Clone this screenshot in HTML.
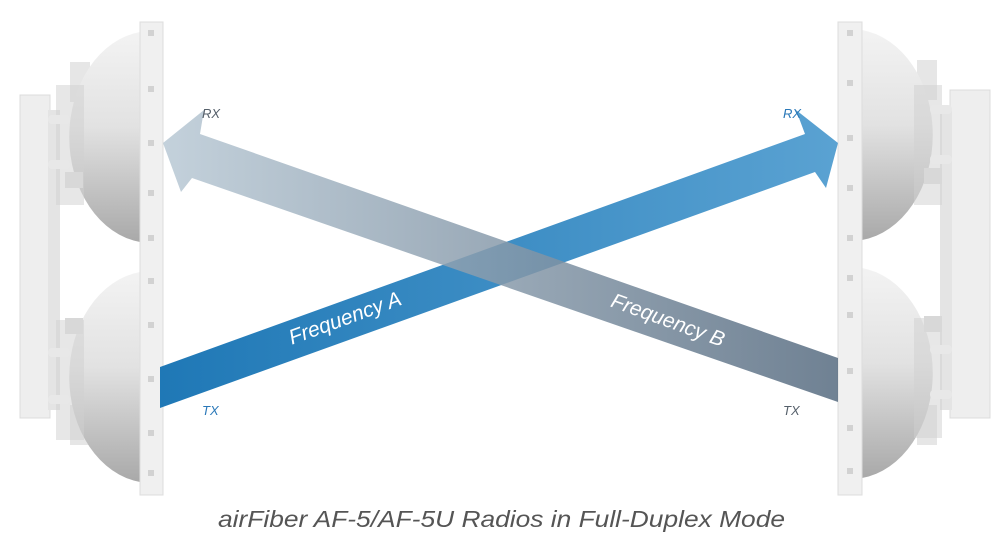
<!DOCTYPE html>
<html><head><meta charset="utf-8"><style>
html,body{margin:0;padding:0;background:#fff;width:1007px;height:544px;overflow:hidden}
svg{display:block}
</style></head><body>
<svg width="1007" height="544" viewBox="0 0 1007 544" xmlns="http://www.w3.org/2000/svg" font-family="Liberation Sans, sans-serif">
<defs>
<linearGradient id="domeV" x1="0" y1="0" x2="0" y2="1">
<stop offset="0" stop-color="#f3f3f3"/><stop offset="0.45" stop-color="#e2e2e2"/><stop offset="1" stop-color="#a9a9a9"/>
</linearGradient>
<linearGradient id="ga" x1="160" y1="0" x2="838" y2="0" gradientUnits="userSpaceOnUse">
<stop offset="0" stop-color="#1f78b6"/><stop offset="1" stop-color="#5aa2d2"/>
</linearGradient>
<linearGradient id="gb" x1="163" y1="0" x2="838" y2="0" gradientUnits="userSpaceOnUse">
<stop offset="0" stop-color="#b9c9d5"/><stop offset="1" stop-color="#566b80"/>
</linearGradient>
</defs>

<!-- Left device -->
<g>
<rect x="20" y="95" width="30" height="323" fill="#eeeeee" stroke="#dcdcdc"/>
<rect x="48" y="110" width="12" height="300" fill="#e4e4e4"/>
<rect x="70" y="62" width="20" height="40" fill="#e6e6e6"/>
<rect x="70" y="405" width="20" height="40" fill="#e6e6e6"/>
<path d="M140,32 A82,106 0 0 0 140,242 Z" fill="url(#domeV)"/>
<path d="M140,272 A82,106 0 0 0 140,482 Z" fill="url(#domeV)"/>
<rect x="56" y="85" width="28" height="120" fill="#cfcfcf" opacity="0.5"/>
<rect x="56" y="320" width="28" height="120" fill="#cfcfcf" opacity="0.5"/>
<rect x="48" y="115" width="22" height="9" rx="4" fill="#e8e8e8"/>
<rect x="48" y="160" width="22" height="9" rx="4" fill="#e8e8e8"/>
<rect x="48" y="348" width="22" height="9" rx="4" fill="#e8e8e8"/>
<rect x="48" y="395" width="22" height="9" rx="4" fill="#e8e8e8"/>
<rect x="65" y="172" width="18" height="16" fill="#d8d8d8"/>
<rect x="65" y="318" width="18" height="16" fill="#d8d8d8"/>
<rect x="140" y="22" width="23" height="473" fill="#f0f0f0" stroke="#dddddd"/>
<g fill="#d2d2d2">
<rect x="148" y="30" width="6" height="6"/><rect x="148" y="86" width="6" height="6"/><rect x="148" y="140" width="6" height="6"/>
<rect x="148" y="190" width="6" height="6"/><rect x="148" y="235" width="6" height="6"/><rect x="148" y="278" width="6" height="6"/>
<rect x="148" y="322" width="6" height="6"/><rect x="148" y="376" width="6" height="6"/><rect x="148" y="430" width="6" height="6"/><rect x="148" y="470" width="6" height="6"/>
</g>
</g>

<!-- Right device -->
<g>
<rect x="950" y="90" width="40" height="328" fill="#eeeeee" stroke="#dcdcdc"/>
<rect x="940" y="110" width="12" height="300" fill="#e4e4e4"/>
<rect x="917" y="60" width="20" height="40" fill="#e6e6e6"/>
<rect x="917" y="405" width="20" height="40" fill="#e6e6e6"/>
<path d="M862,30 A82,106 0 0 1 862,240 Z" fill="url(#domeV)"/>
<path d="M862,268 A82,106 0 0 1 862,478 Z" fill="url(#domeV)"/>
<rect x="914" y="85" width="28" height="120" fill="#cfcfcf" opacity="0.5"/>
<rect x="914" y="318" width="28" height="120" fill="#cfcfcf" opacity="0.5"/>
<rect x="930" y="105" width="22" height="9" rx="4" fill="#e8e8e8"/>
<rect x="930" y="155" width="22" height="9" rx="4" fill="#e8e8e8"/>
<rect x="930" y="345" width="22" height="9" rx="4" fill="#e8e8e8"/>
<rect x="930" y="390" width="22" height="9" rx="4" fill="#e8e8e8"/>
<rect x="924" y="168" width="18" height="16" fill="#d8d8d8"/>
<rect x="924" y="316" width="18" height="16" fill="#d8d8d8"/>
<rect x="838" y="22" width="24" height="473" fill="#f0f0f0" stroke="#dddddd"/>
<g fill="#d2d2d2">
<rect x="847" y="30" width="6" height="6"/><rect x="847" y="80" width="6" height="6"/><rect x="847" y="135" width="6" height="6"/>
<rect x="847" y="185" width="6" height="6"/><rect x="847" y="235" width="6" height="6"/><rect x="847" y="275" width="6" height="6"/>
<rect x="847" y="312" width="6" height="6"/><rect x="847" y="368" width="6" height="6"/><rect x="847" y="425" width="6" height="6"/><rect x="847" y="468" width="6" height="6"/>
</g>
</g>

<!-- Arrow A -->
<polygon points="160,367 805,134 796,110 838,143 826,188 815,172 160,408" fill="url(#ga)"/>
<!-- Arrow B -->
<polygon points="838,358 200,134 204,110 163,143 181,192 192,178 838,402" fill="url(#gb)" opacity="0.85"/>

<text x="345" y="325" fill="#fff" font-size="21" font-style="italic" text-anchor="middle" transform="rotate(-20 345 318)">Frequency A</text>
<text x="668" y="327" fill="#fff" font-size="21" font-style="italic" text-anchor="middle" transform="rotate(20 668 320)">Frequency B</text>

<text x="202" y="118" fill="#555f6a" font-size="13" font-style="italic">RX</text>
<text x="783" y="118" fill="#2a78b8" font-size="13" font-style="italic">RX</text>
<text x="202" y="415" fill="#2a78b8" font-size="13" font-style="italic">TX</text>
<text x="783" y="415" fill="#555f6a" font-size="13" font-style="italic">TX</text>

<text x="218" y="527" fill="#555" font-size="23" font-style="italic" textLength="567" lengthAdjust="spacingAndGlyphs">airFiber AF-5/AF-5U Radios in Full-Duplex Mode</text>
</svg>
</body></html>
